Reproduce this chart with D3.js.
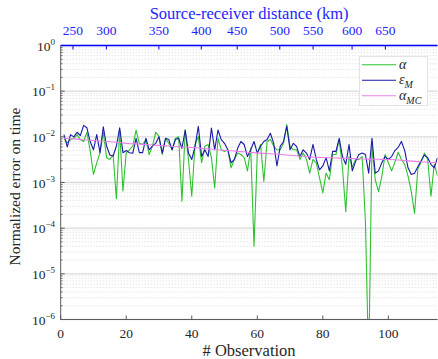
<!DOCTYPE html>
<html>
<head>
<meta charset="utf-8">
<script src="https://cdn.jsdelivr.net/npm/d3@7/dist/d3.min.js"></script>
<style>
  html, body { margin: 0; padding: 0; background: #fff; }
  svg { display: block; font-family: "Liberation Serif", "DejaVu Serif", serif; }
</style>
</head>
<body>
<svg id="chart" width="438" height="359"></svg>
<script>
// Observation index (1..115)
const observations = d3.range(1, 116);

// alpha: normalized time error per observation
const alphaErr = [
  9.3e-3, 7.4e-3, 8.7e-3, 9.3e-3, 1.12e-2, 8.7e-3, 7.9e-3, 1.26e-2, 5.0e-3, 1.5e-3,
  2.7e-3, 4.5e-3, 1.26e-2, 3.5e-3, 3.2e-3, 4.0e-3, 4.4e-4, 1.41e-2, 6.5e-4, 4.5e-3,
  5.2e-3, 6.3e-3, 1.41e-2, 7.2e-3, 6.8e-3, 8.7e-3, 4.1e-3, 6.3e-3, 1.26e-2, 1.02e-2,
  4.1e-3, 9.3e-3, 7.2e-3, 5.2e-3, 9.3e-3, 1.0e-2, 3.9e-4, 1.41e-2, 3.2e-3, 5.0e-4,
  6.8e-3, 1.02e-2, 2.7e-3, 6.2e-3, 6.8e-3, 3.5e-3, 7.6e-4, 9.3e-3, 5.2e-3, 4.8e-3,
  5.2e-3, 2.1e-3, 3.2e-3, 4.4e-3, 4.1e-3, 3.5e-3, 1.8e-3, 5.6e-3, 4.0e-5, 4.4e-3,
  6.8e-3, 1.05e-3, 7.9e-3, 8.7e-3, 6.3e-3, 5.2e-3, 5.2e-3, 7.2e-3, 1.86e-2, 6.2e-3,
  5.2e-3, 5.2e-3, 3.2e-3, 4.4e-3, 3.2e-3, 1.6e-3, 3.2e-3, 2.7e-3, 1.26e-3, 5.9e-4,
  1.6e-3, 1.15e-3, 4.1e-3, 4.1e-3, 8.7e-3, 2.1e-3, 2.3e-4, 3.7e-3, 2.2e-3, 3.2e-3,
  3.2e-3, 3.7e-3, 1.4e-4, 1.0e-7, 6.3e-3, 1.15e-3, 6.3e-4, 1.35e-3, 4.1e-3, 2.7e-3,
  1.8e-3, 2.8e-3, 4.6e-3, 3.2e-3, 2.5e-3, 1.4e-3, 6.3e-4, 2.1e-4, 2.0e-3, 2.8e-3,
  4.4e-3, 3.2e-3, 5.0e-4, 2.5e-3, 1.4e-3
];

// epsilon_M: model error per observation
const epsM = [
  1.12e-2, 6.0e-3, 1.12e-2, 1.0e-2, 1.26e-2, 1.07e-2, 1.78e-2, 1.58e-2, 7.9e-3, 5.2e-3,
  1.12e-2, 4.5e-3, 1.66e-2, 6.3e-3, 4.0e-3, 3.8e-3, 6.3e-3, 1.58e-2, 4.5e-3, 5.0e-3,
  4.5e-3, 4.4e-3, 9.3e-3, 4.5e-3, 4.5e-3, 9.3e-3, 5.2e-3, 6.3e-3, 7.2e-3, 1.0e-2,
  4.4e-3, 9.3e-3, 8.7e-3, 5.2e-3, 8.7e-3, 9.3e-3, 5.6e-3, 1.41e-2, 4.4e-3, 3.2e-3,
  6.2e-3, 1.7e-2, 3.7e-3, 5.2e-3, 3.7e-3, 1.55e-2, 5.2e-3, 1.41e-2, 8.7e-3, 7.2e-3,
  5.2e-3, 2.7e-3, 3.2e-3, 5.6e-3, 7.9e-3, 6.8e-3, 3.7e-3, 5.2e-3, 7.9e-3, 4.4e-3,
  6.2e-3, 7.9e-3, 8.7e-3, 1.2e-2, 7.2e-3, 2.3e-3, 6.2e-3, 7.9e-3, 1.7e-2, 5.2e-3,
  7.2e-3, 6.2e-3, 3.7e-3, 5.2e-3, 4.4e-3, 3.2e-3, 6.8e-3, 3.2e-3, 1.9e-3, 2.3e-3,
  3.5e-3, 1.8e-3, 4.8e-3, 4.8e-3, 9.3e-3, 3.7e-3, 2.5e-3, 6.8e-3, 1.8e-3, 2.9e-3,
  4.1e-3, 4.4e-3, 4.1e-3, 1.6e-3, 9.3e-3, 1.6e-3, 1.8e-3, 2.7e-3, 3.7e-3, 3.2e-3,
  3.7e-3, 5.0e-3, 5.9e-3, 7.9e-3, 5.0e-3, 2.1e-3, 1.5e-3, 1.6e-3, 2.2e-3, 3.0e-3,
  4.0e-3, 3.5e-3, 2.5e-3, 2.1e-3, 3.5e-3
];

// alpha_MC: Monte Carlo estimate per observation
const alphaMC = [
  9.3e-3, 9.2e-3, 9.1e-3, 9.0e-3, 8.9e-3, 8.7e-3, 8.6e-3, 8.5e-3, 8.4e-3, 8.3e-3,
  8.2e-3, 8.1e-3, 8.0e-3, 7.9e-3, 7.8e-3, 7.7e-3, 7.6e-3, 7.5e-3, 7.35e-3, 7.2e-3,
  7.1e-3, 7.05e-3, 7.0e-3, 6.9e-3, 6.85e-3, 6.8e-3, 6.7e-3, 6.6e-3, 6.55e-3, 6.5e-3,
  6.4e-3, 6.35e-3, 6.3e-3, 6.2e-3, 6.15e-3, 6.1e-3, 6.0e-3, 5.95e-3, 5.9e-3, 5.85e-3,
  5.8e-3, 5.7e-3, 5.6e-3, 5.5e-3, 5.45e-3, 5.4e-3, 5.3e-3, 5.2e-3, 5.15e-3, 5.1e-3,
  5.0e-3, 4.95e-3, 4.9e-3, 4.8e-3, 4.75e-3, 4.7e-3, 4.6e-3, 4.55e-3, 4.5e-3, 4.45e-3,
  4.4e-3, 4.35e-3, 4.3e-3, 4.25e-3, 4.2e-3, 4.15e-3, 4.1e-3, 4.05e-3, 4.0e-3, 3.95e-3,
  3.9e-3, 3.85e-3, 3.8e-3, 3.75e-3, 3.7e-3, 3.65e-3, 3.6e-3, 3.58e-3, 3.55e-3, 3.52e-3,
  3.5e-3, 3.48e-3, 3.46e-3, 3.44e-3, 3.42e-3, 3.4e-3, 3.38e-3, 3.36e-3, 3.34e-3, 3.32e-3,
  3.3e-3, 3.28e-3, 3.26e-3, 3.25e-3, 3.24e-3, 3.23e-3, 3.22e-3, 3.21e-3, 3.2e-3, 3.2e-3,
  3.18e-3, 3.15e-3, 3.1e-3, 3.06e-3, 3.02e-3, 2.98e-3, 2.94e-3, 2.9e-3, 2.87e-3, 2.84e-3,
  2.81e-3, 2.78e-3, 2.75e-3, 2.72e-3, 2.7e-3
];

// Bottom axis ticks (observation number)
const obsTicks = [0, 20, 40, 60, 80, 100];
// Top axis: source-receiver distance labels and the observation index where each occurs
const distLabels = [250, 300, 350, 400, 450, 500, 550, 600, 650];
const distAtObs = [3.75, 13.93, 29.97, 42.9, 53.87, 66.86, 77.04, 88.93, 99.09];
// Left axis decades
const yDecades = [-6, -5, -4, -3, -2, -1, 0];

(function draw() {
  const svg = d3.select("#chart");
  const pLeft = 60.7, pRight = 437.5, pTop = 45.5, pBottom = 319.5;

  const x = d3.scaleLinear().domain([0, 115]).range([pLeft, pRight]);
  const y = d3.scaleLog().domain([1e-6, 1]).range([pBottom, pTop]);

  const axisColor = "#5a5a5a";
  const textColor = "#262626";
  const topBlue = "#2424ff";

  // Minor horizontal grid (dotted)
  const minorVals = [];
  for (let k = -6; k < 0; k++) for (let m = 2; m <= 9; m++) minorVals.push(m * Math.pow(10, k));
  svg.append("g").selectAll("line").data(minorVals).join("line")
    .attr("x1", pLeft).attr("x2", pRight)
    .attr("y1", d => y(d)).attr("y2", d => y(d))
    .attr("stroke", "#cfcfcf").attr("stroke-width", 0.8)
    .attr("stroke-dasharray", "1,2");

  // Major horizontal grid
  svg.append("g").selectAll("line").data(yDecades.map(e => Math.pow(10, e))).join("line")
    .attr("x1", pLeft).attr("x2", pRight)
    .attr("y1", d => y(d)).attr("y2", d => y(d))
    .attr("stroke", "#d9d9d9").attr("stroke-width", 1.4);

  // Series lines (clipped to the plot area)
  svg.append("clipPath").attr("id", "plotClip")
    .append("rect").attr("x", pLeft).attr("y", pTop)
    .attr("width", pRight - pLeft).attr("height", pBottom - pTop);

  const plot = svg.append("g").attr("clip-path", "url(#plotClip)");
  const lineOf = arr => d3.line().x((d, i) => x(observations[i])).y(d => y(d))(arr);

  const series = [
    { data: alphaErr, color: "#2fc22f" },
    { data: epsM, color: "#1a1aa6" },
    { data: alphaMC, color: "#ea7fea" }
  ];
  series.forEach(s => {
    plot.append("path").attr("d", lineOf(s.data))
      .attr("fill", "none").attr("stroke", s.color).attr("stroke-width", 1.1)
      .attr("stroke-linejoin", "round");
  });

  // Left axis with major and minor ticks
  const yAxis = svg.append("g");
  yAxis.append("line").attr("x1", pLeft).attr("x2", pLeft).attr("y1", pTop).attr("y2", pBottom)
    .attr("stroke", axisColor).attr("stroke-width", 1);
  yAxis.selectAll("line.minor").data(minorVals).join("line").attr("class", "minor")
    .attr("x1", pLeft).attr("x2", pLeft + 2)
    .attr("y1", d => y(d)).attr("y2", d => y(d))
    .attr("stroke", axisColor).attr("stroke-width", 0.8);
  yAxis.selectAll("line.major").data(yDecades).join("line").attr("class", "major")
    .attr("x1", pLeft).attr("x2", pLeft + 4)
    .attr("y1", d => y(Math.pow(10, d))).attr("y2", d => y(Math.pow(10, d)))
    .attr("stroke", axisColor).attr("stroke-width", 1);
  const yLabels = yAxis.selectAll("text").data(yDecades).join("text")
    .attr("x", 55).attr("y", d => y(Math.pow(10, d)) + 5)
    .attr("text-anchor", "end").attr("fill", textColor).attr("font-size", 13.5);
  yLabels.append("tspan").text("10");
  yLabels.append("tspan").attr("dy", -6).attr("font-size", 9)
    .text(d => d === 0 ? "0" : "\u2212" + Math.abs(d));

  // Bottom axis
  const xAxis = svg.append("g");
  xAxis.append("line").attr("x1", pLeft).attr("x2", pRight).attr("y1", pBottom).attr("y2", pBottom)
    .attr("stroke", axisColor).attr("stroke-width", 1);
  xAxis.selectAll("line.tick").data(obsTicks).join("line").attr("class", "tick")
    .attr("x1", d => x(d)).attr("x2", d => x(d))
    .attr("y1", pBottom).attr("y2", pBottom - 4)
    .attr("stroke", axisColor).attr("stroke-width", 1);
  xAxis.selectAll("text").data(obsTicks).join("text")
    .attr("x", d => x(d)).attr("y", 338)
    .attr("text-anchor", "middle").attr("fill", textColor).attr("font-size", 13.5)
    .text(d => d);

  // Top axis: source-receiver distance
  const topAxis = svg.append("g");
  topAxis.append("line").attr("x1", pLeft).attr("x2", pRight).attr("y1", pTop).attr("y2", pTop)
    .attr("stroke", "#0000ff").attr("stroke-width", 1.4);
  topAxis.selectAll("line.tick").data(distAtObs).join("line").attr("class", "tick")
    .attr("x1", d => x(d)).attr("x2", d => x(d))
    .attr("y1", pTop).attr("y2", pTop + 4)
    .attr("stroke", "#0000ff").attr("stroke-width", 1);
  topAxis.selectAll("text").data(distLabels).join("text")
    .attr("x", (d, i) => x(distAtObs[i])).attr("y", 35)
    .attr("text-anchor", "middle").attr("fill", topBlue).attr("font-size", 13.5)
    .text(d => d);
  svg.append("text").attr("x", (pLeft + pRight) / 2).attr("y", 19)
    .attr("text-anchor", "middle").attr("fill", topBlue).attr("font-size", 16.5)
    .text("Source-receiver distance (km)");

  // Axis titles
  svg.append("text").attr("x", (pLeft + pRight) / 2).attr("y", 356)
    .attr("text-anchor", "middle").attr("fill", textColor).attr("font-size", 16.5)
    .text("# Observation");
  svg.append("text")
    .attr("transform", `translate(20,${(pTop + pBottom) / 2 + 4}) rotate(-90)`)
    .attr("text-anchor", "middle").attr("fill", textColor).attr("font-size", 15.5)
    .text("Normalized error on time");

  // Legend
  const legend = svg.append("g");
  legend.append("rect").attr("x", 359.5).attr("y", 56.5).attr("width", 68).attr("height", 49)
    .attr("fill", "#fff").attr("stroke", "#e3e3e3").attr("stroke-width", 1);
  const legendItems = [
    { color: "#2fc22f", base: "\u03B1", sub: "" },
    { color: "#1a1aa6", base: "\u03B5", sub: "M" },
    { color: "#ea7fea", base: "\u03B1", sub: "MC" }
  ];
  legendItems.forEach((d, i) => {
    const ly = 64.7 + i * 15.5;
    legend.append("line").attr("x1", 362).attr("x2", 396).attr("y1", ly).attr("y2", ly)
      .attr("stroke", d.color).attr("stroke-width", 1.1);
    const t = legend.append("text").attr("x", 399).attr("y", ly + 4)
      .attr("fill", textColor).attr("font-size", 14).attr("font-style", "italic");
    t.append("tspan").text(d.base);
    if (d.sub) t.append("tspan").attr("dy", 4).attr("font-size", 10).text(d.sub);
  });
})();
</script>
</body>
</html>
